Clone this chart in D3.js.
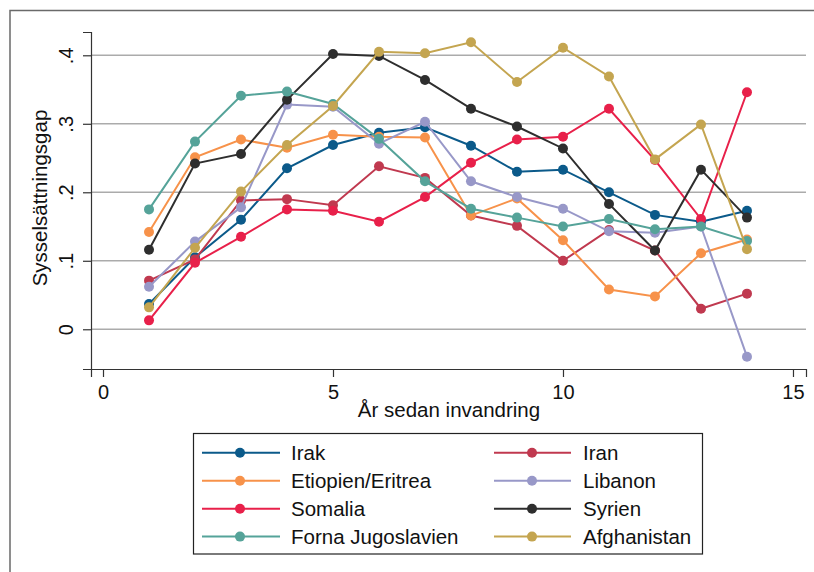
<!DOCTYPE html>
<html><head><meta charset="utf-8">
<script src="https://cdnjs.cloudflare.com/ajax/libs/d3/7.8.5/d3.min.js"></script>
<style>body{margin:0;background:#fff}svg{display:block}text{font-family:"Liberation Sans",Arial,sans-serif;fill:#111}</style>
</head><body><svg id="c" width="814" height="572"></svg>
<script>
const years = [1,2,3,4,5,6,7,8,9,10,11,12,13,14];
const seriesNames = ["Irak","Iran","Etiopien/Eritrea","Libanon","Somalia","Syrien","Forna Jugoslavien","Afghanistan"];
const seriesColors = ["#0b5a8a","#c0394f","#f7924a","#9898c8","#e8204a","#2e2e2e","#55a399","#c4a550"];
const irak        = [0.037,0.105,0.160,0.235,0.269,0.287,0.295,0.268,0.230,0.233,0.200,0.167,0.157,0.173];
const iran        = [0.071,0.102,0.188,0.190,0.181,0.238,0.221,0.166,0.151,0.100,0.145,0.115,0.030,0.052];
const etiopien    = [0.142,0.251,0.277,0.265,0.284,0.281,0.280,0.166,0.191,0.130,0.058,0.048,0.111,0.131];
const libanon     = [0.062,0.128,0.178,0.328,0.325,0.271,0.303,0.216,0.193,0.176,0.143,0.141,0.150,-0.040];
const somalia     = [0.013,0.097,0.135,0.175,0.173,0.157,0.193,0.243,0.277,0.281,0.322,0.247,0.161,0.346];
const syrien      = [0.116,0.242,0.256,0.335,0.402,0.399,0.364,0.322,0.296,0.264,0.183,0.115,0.233,0.163];
const jugoslavien = [0.175,0.274,0.341,0.347,0.329,0.278,0.216,0.176,0.163,0.150,0.161,0.146,0.150,0.129];
const afghanistan = [0.032,0.119,0.201,0.269,0.326,0.405,0.403,0.419,0.361,0.411,0.369,0.248,0.299,0.117];
const seriesValues = [irak,iran,etiopien,libanon,somalia,syrien,jugoslavien,afghanistan];
const xTicks = [0,5,10,15];
const yTicks = [0,0.1,0.2,0.3,0.4];
const yTickLabels = ["0",".1",".2",".3",".4"];
const xTitle = "År sedan invandring";
const yTitle = "Sysselsättningsgap";

const svg = d3.select("#c");
const x = d3.scaleLinear().domain([-0.261,15.283]).range([91,806]);
const y = d3.scaleLinear().domain([-0.058,0.434]).range([369,32]);

// outer frame
svg.append("rect").attr("x",10).attr("y",10.5).attr("width",820).attr("height",580)
  .attr("fill","none").attr("stroke","#6a6a6a").attr("stroke-width",1.5);

// gridlines
svg.append("g").selectAll("line").data(yTicks).join("line")
  .attr("x1",91).attr("x2",806).attr("y1",d=>y(d)).attr("y2",d=>y(d))
  .attr("stroke","#ababab").attr("stroke-width",1.6);

// axes
const xa = svg.append("g").attr("transform","translate(0,369)")
  .call(d3.axisBottom(x).tickValues(xTicks).tickSize(8).tickPadding(6).tickFormat(d3.format("d")));
const ya = svg.append("g").attr("transform","translate(91,0)")
  .call(d3.axisLeft(y).tickValues(yTicks).tickSize(8).tickPadding(4).tickFormat((d,i)=>yTickLabels[i]));
[xa,ya].forEach(a=>{a.select(".domain").attr("stroke","#333").attr("stroke-width",1.2);
  a.selectAll(".tick line").attr("stroke","#333").attr("stroke-width",1.2);
  a.selectAll("text").attr("font-size",20).attr("font-family","'Liberation Sans',Arial,sans-serif").attr("fill","#111");});
xa.selectAll(".tick text").attr("dy",0).attr("y",30);
ya.selectAll(".tick text").attr("x",null).attr("dy",0)
  .attr("text-anchor","middle")
  .attr("transform",function(d){return `translate(73,0) rotate(-90)`;})
  .attr("x",0).attr("y",0);
ya.selectAll(".tick").each(function(d){d3.select(this).select("text").attr("transform",`translate(-18,0) rotate(-90)`);});

// titles
svg.append("text").attr("x",449).attr("y",417).attr("text-anchor","middle").attr("font-size",20.5).text(xTitle);
svg.append("text").attr("transform","translate(47,198) rotate(-90)").attr("text-anchor","middle").attr("font-size",20.5).text(yTitle);

// series
const line = d3.line().x((d,i)=>x(years[i])).y(d=>y(d));
seriesValues.forEach((vals,k)=>{
  const g = svg.append("g");
  g.append("path").datum(vals).attr("d",line).attr("fill","none")
    .attr("stroke",seriesColors[k]).attr("stroke-width",2);
  g.selectAll("circle").data(vals).join("circle")
    .attr("cx",(d,i)=>x(years[i])).attr("cy",d=>y(d)).attr("r",5)
    .attr("fill",seriesColors[k]);
});

// legend
svg.append("rect").attr("x",193.5).attr("y",433.5).attr("width",509).attr("height",120.5)
  .attr("fill","#fff").attr("stroke","#222").attr("stroke-width",1.2);
const colX = [[202,280,240,291],[494,571,532,583]];
const rowY = [452.8,480.8,508.8,536.6];
seriesNames.forEach((n,k)=>{
  const c = colX[k%2], ry = rowY[Math.floor(k/2)];
  svg.append("line").attr("x1",c[0]).attr("x2",c[1]).attr("y1",ry).attr("y2",ry)
    .attr("stroke",seriesColors[k]).attr("stroke-width",2);
  svg.append("circle").attr("cx",c[2]).attr("cy",ry).attr("r",5).attr("fill",seriesColors[k]);
  svg.append("text").attr("x",c[3]).attr("y",ry+7.3).attr("font-size",20.5).text(n);
});
</script></body></html>
